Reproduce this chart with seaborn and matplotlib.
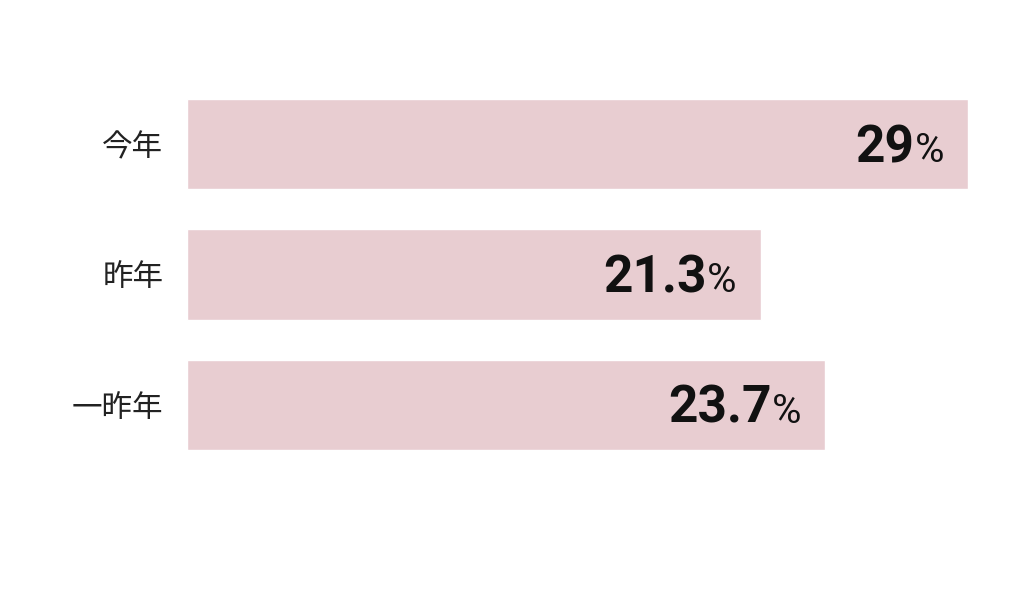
import matplotlib
matplotlib.use("Agg")
import matplotlib.pyplot as plt
import seaborn as sns
import pandas as pd

# data
categories = ["今年", "昨年", "一昨年"]
values = [29, 21.3, 23.7]
value_labels = ["29", "21.3", "23.7"]

sns.set_theme(style="white")
plt.rcParams['font.family'] = ['Noto Sans CJK JP', 'DejaVu Sans']

df = pd.DataFrame({"category": categories, "value": values})

fig = plt.figure(figsize=(10.34, 5.99), dpi=100)
ax = fig.add_axes([187 / 1034, 149 / 599, 781 / 1034, 351 / 599])

sns.barplot(data=df, x="value", y="category", orient="h", color="#e8cdd1",
            saturation=1, width=0.69, ax=ax)

ax.set_xlim(0, 29)
ax.set_ylim(2.345, -0.345)
ax.set_xlabel("")
ax.set_ylabel("")
ax.set_xticks([])
for s in ax.spines.values():
    s.set_visible(False)
ax.tick_params(axis="y", length=0, pad=17, labelsize=22, labelcolor="#222222")

for i, (v, lab) in enumerate(zip(values, value_labels)):
    ax.annotate("%", (v, i), xytext=(-24, -18), textcoords="offset pixels",
                ha="right", va="baseline", fontsize=29, color="#111111",
                family="Roboto")
    ax.annotate(lab, (v, i), xytext=(-54, -18), textcoords="offset pixels",
                ha="right", va="baseline", fontsize=37, fontweight="bold",
                color="#111111", family="Roboto")

fig.savefig("out.png", dpi=100, facecolor="white")
